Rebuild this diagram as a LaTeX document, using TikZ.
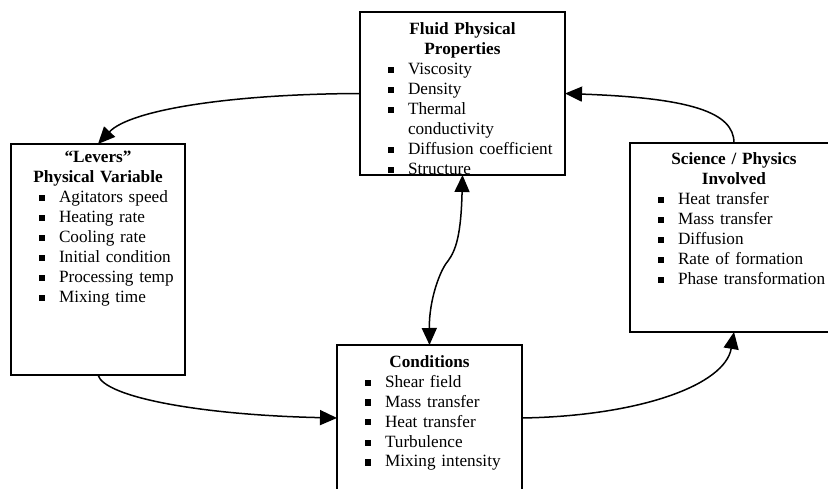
\documentclass[tikz,border=0pt]{standalone}
\usepackage{fontspec}
\setmainfont{Liberation Serif}
\usetikzlibrary{arrows.meta}
\newcommand\Ls{\rule[-6pt]{0pt}{20pt}}
\newcommand\itm[1]{\noindent\hspace*{28pt}\raisebox{1.5pt}{\rule{6pt}{6pt}}\hspace*{14pt}\Ls #1\par}
\newcommand\cont[1]{\noindent\hspace*{48pt}\Ls #1\par}
\newcommand\ttl[1]{{\centering\bfseries #1\par}}
\tikzset{
  boxst/.style={draw, line width=1.9pt, rectangle, anchor=north west, inner sep=0pt, outer sep=0pt},
  txt/.style={anchor=north west, inner sep=0pt, outer sep=0pt, align=left, text width=#1,
    font=\fontsize{17.2}{20}\selectfont,
    execute at begin node={\parindent=0pt\lineskip=0pt\lineskiplimit=-50pt}},
  conn/.style={line width=1.5pt, -{Triangle[length=17pt,width=15pt]}},
  conn2/.style={line width=1.5pt, {Triangle[length=17pt,width=15pt]}-{Triangle[length=17pt,width=15pt]}}
}
\begin{document}
\begin{tikzpicture}[x=1pt,y=-1pt]
\useasboundingbox (0,0) rectangle (828,489);
\clip (0,0) rectangle (828,489);
% boxes
\node[boxst, minimum width=205pt, minimum height=163pt] (fluid) at (360,12) {};
\node[boxst, minimum width=174pt, minimum height=231pt] (levers) at (11,144) {};
\node[boxst, minimum width=208pt, minimum height=189pt] (science) at (630,143) {};
\node[boxst, minimum width=185pt, minimum height=146pt] (cond) at (337,345) {};
% texts
\begin{scope}
\clip (360,12) rectangle (565,175);
\node[txt=205pt] (fluidtext) at (360,20.5) {%
\ttl{\Ls Fluid Physical\\\Ls Properties}
\itm{Viscosity}
\itm{Density}
\itm{Thermal}
\cont{conductivity}
\itm{Diffusion coefficient}
\itm{Structure}};
\end{scope}
\begin{scope}
\clip (11,144) rectangle (185,375);
\node[txt=174pt] (leverstext) at (11,149) {%
\ttl{\Ls “Levers”\\\Ls Physical Variable}
\itm{Agitators speed}
\itm{Heating rate}
\itm{Cooling rate}
\itm{Initial condition}
\itm{Processing temp}
\itm{Mixing time}};
\end{scope}
\begin{scope}
\clip (630,143) rectangle (838,332);
\node[txt=208pt] (sciencetext) at (630,151) {%
\ttl{\Ls Science / Physics\\\Ls Involved}
\itm{Heat transfer}
\itm{Mass transfer}
\itm{Diffusion}
\itm{Rate of formation}
\itm{Phase transformation}};
\end{scope}
\begin{scope}
\clip (337,345) rectangle (522,491);
\node[txt=185pt] (condtext) at (337,353) {%
\ttl{\Ls Conditions}
\itm{Shear field}
\itm{Mass transfer}
\itm{Heat transfer}
\itm{Turbulence}
\itm{Mixing intensity}};
\end{scope}
% connectors
\coordinate (kink) at (448,261);
\draw[conn] (fluid.west) .. controls (230,94) and (130,110) .. (levers.north);
\draw[conn] (levers.south) .. controls (104,397) and (200,415) .. (cond.west);
\draw[conn] (cond.east) .. controls (640,416) and (725,385) .. (science.south);
\draw[conn] (science.north) .. controls (734,112) and (690,98) .. (fluid.east);
\draw[conn2] (fluid.south) .. controls (461,235) and (456,250) .. (kink) .. controls (440,270) and (429,300) .. (cond.north);
\end{tikzpicture}
\end{document}
